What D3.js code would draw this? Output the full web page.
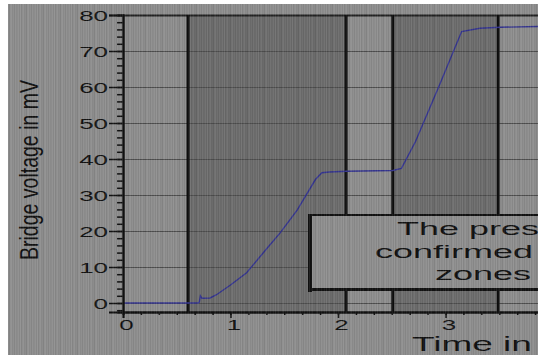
<!DOCTYPE html>
<html>
<head>
<meta charset="utf-8">
<script src="https://cdn.jsdelivr.net/npm/d3@7"></script>
<style>
  html, body { margin: 0; padding: 0; background: #fff; overflow: hidden; }
  svg { display: block; }
  text { font-family: "Liberation Sans", Arial, sans-serif; fill: #111; }
</style>
</head>
<body>
<div id="chart"></div>
<script>
// measured curve (time, bridge voltage)
var timeVals = [0, 0.70, 0.71, 0.72, 0.735, 0.81, 0.87, 1.0, 1.15, 1.34, 1.46, 1.62, 1.79, 1.85, 1.92, 2.08, 2.51, 2.59, 2.72, 2.95, 3.15, 3.32, 3.51, 3.86];
var voltVals = [0, 0, 0.3, 2.0, 1.3, 1.4, 2.3, 5.0, 8.4, 15.2, 19.4, 25.8, 34.3, 36.2, 36.4, 36.6, 36.8, 37.4, 44.8, 61.0, 75.4, 76.3, 76.6, 76.8];

// shaded zones (time)
var zoneStart = [0.605, 2.51];
var zoneEnd = [2.075, 3.49];

var yTicks = [0, 10, 20, 30, 40, 50, 60, 70, 80];
var xTicks = [0, 1, 2, 3];

var boxLines = ["The pressure increase was", "confirmed in the marked", "zones"];
var boxLineX = [397, 375, 435];

var W = 538, H = 355;

var svg = d3.select("#chart").append("svg")
  .attr("width", W)
  .attr("height", H);

var x = d3.scaleLinear().domain([0, 4]).range([123, 553]);
var y = d3.scaleLinear().domain([-2.5, 80]).range([312, 15]);

// stripe texture of the scanned picture
var stripes = [0.00, 0.05, -0.04, 0.08, -0.06, 0.02, 0.06, -0.03, 0.00, -0.07, 0.04, 0.07, -0.02, 0.03, -0.05, 0.05, -0.01];
var pat = svg.append("defs").append("pattern")
  .attr("id", "stripes")
  .attr("patternUnits", "userSpaceOnUse")
  .attr("width", stripes.length)
  .attr("height", 10);
pat.selectAll("rect").data(stripes).enter().append("rect")
  .attr("x", function(d, i) { return i; })
  .attr("width", 1)
  .attr("height", 10)
  .attr("fill", function(d) { return d > 0 ? "#fff" : "#000"; })
  .attr("fill-opacity", function(d) { return Math.abs(d); });

svg.append("rect")
  .attr("x", 8).attr("y", 4)
  .attr("width", W).attr("height", H)
  .attr("fill", "#8c8c8c");

// zones
svg.selectAll(".zone").data(zoneStart).enter().append("rect")
  .attr("class", "zone")
  .attr("x", function(d) { return x(d); })
  .attr("y", y(80))
  .attr("width", function(d, i) { return x(zoneEnd[i]) - x(d); })
  .attr("height", y(-2.5) - y(80))
  .attr("fill", "#6b6b6b");

// horizontal grid
svg.selectAll(".grid").data(yTicks).enter().append("line")
  .attr("class", "grid")
  .attr("x1", x(0)).attr("x2", W)
  .attr("y1", function(d) { return Math.round(y(d)) + 0.5; })
  .attr("y2", function(d) { return Math.round(y(d)) + 0.5; })
  .attr("stroke", function(d) { return d == 80 ? "#222" : "#4d4d4d"; })
  .attr("stroke-width", function(d) { return d == 80 ? 2 : 1; });

// zone borders
zoneStart.concat(zoneEnd).forEach(function(t) {
  svg.append("line")
    .attr("x1", x(t)).attr("x2", x(t))
    .attr("y1", y(80)).attr("y2", y(-2.5))
    .attr("stroke", "#0d0d0d")
    .attr("stroke-width", 3);
});

// curve
var line = d3.line()
  .x(function(d) { return x(d); })
  .y(function(d, i) { return y(voltVals[i]); });

svg.append("path")
  .datum(timeVals)
  .attr("d", line)
  .attr("fill", "none")
  .attr("stroke", "#34348e")
  .attr("stroke-width", 1.4);

// y axis
var yMinor = svg.append("g")
  .attr("transform", "translate(" + x(0) + ",0)")
  .call(d3.axisLeft(y).tickValues(d3.range(-2, 80, 2)).tickSize(6).tickFormat(""));
var yAxis = svg.append("g")
  .attr("transform", "translate(" + x(0) + ",0)")
  .call(d3.axisLeft(y).tickValues(yTicks).tickSize(14).tickPadding(0).tickFormat(d3.format("d")));

// x axis
var xMinor = svg.append("g")
  .attr("transform", "translate(0," + y(-2.5) + ")")
  .call(d3.axisBottom(x).tickValues(d3.range(0, 24).map(function(i) { return i / 6; })).tickSize(3).tickFormat(""));
var xAxis = svg.append("g")
  .attr("transform", "translate(0," + y(-2.5) + ")")
  .call(d3.axisBottom(x).tickValues(xTicks).tickSize(6).tickFormat(d3.format("d")));

[yMinor, yAxis, xMinor, xAxis].forEach(function(g) {
  g.select(".domain").attr("stroke", "#111").attr("stroke-width", 2);
  g.selectAll(".tick line").attr("stroke", "#111").attr("stroke-width", 1.5);
});

yAxis.selectAll(".tick text")
  .attr("x", null).attr("dy", "0.36em")
  .attr("text-anchor", "end")
  .attr("transform", "translate(-15,0) scale(1.85,1)")
  .style("font-size", "14px");

xAxis.selectAll(".tick text")
  .attr("y", null).attr("dy", null)
  .attr("text-anchor", "middle")
  .attr("transform", "translate(3,18) scale(1.85,1)")
  .style("font-size", "14px");

// axis titles
svg.append("text")
  .attr("transform", "translate(38,170) rotate(-90)")
  .attr("text-anchor", "middle")
  .attr("textLength", 180)
  .attr("lengthAdjust", "spacingAndGlyphs")
  .style("font-size", "25px")
  .text("Bridge voltage in mV");

svg.append("text")
  .attr("transform", "translate(412,351) scale(1.85,1)")
  .style("font-size", "20px")
  .text("Time in s");

// note box
var box = svg.append("g");
box.append("rect")
  .attr("x", 309).attr("y", 215)
  .attr("width", 400).attr("height", 75)
  .attr("fill", "#8d8d8d")
  .attr("stroke", "#111")
  .attr("stroke-width", 2);
box.append("rect")
  .attr("x", 308).attr("y", 214)
  .attr("width", 4).attr("height", 78)
  .attr("fill", "#111");
box.append("rect")
  .attr("x", 308).attr("y", 288)
  .attr("width", 400).attr("height", 3)
  .attr("fill", "#111");
box.selectAll(".note").data(boxLines).enter().append("text")
  .attr("class", "note")
  .attr("transform", function(d, i) { return "translate(" + boxLineX[i] + "," + (235 + i * 22.5) + ") scale(2,1)"; })
  .style("font-size", "18px")
  .text(function(d) { return d; });

// texture on top
svg.append("rect")
  .attr("x", 8).attr("y", 4)
  .attr("width", W).attr("height", H)
  .attr("fill", "url(#stripes)")
  .style("pointer-events", "none");
</script>
</body>
</html>
